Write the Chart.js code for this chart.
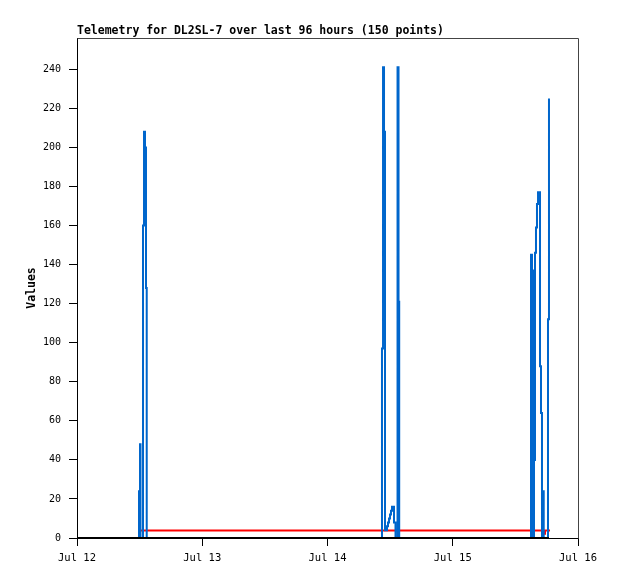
<!DOCTYPE html>
<html>
<head>
<meta charset="utf-8">
<script src="https://cdn.jsdelivr.net/npm/chart.js@4.4.1/dist/chart.umd.min.js"></script>
<style>
html,body{margin:0;padding:0;background:#fff;}
#c{display:block;}
</style>
</head>
<body>
<canvas id="c" width="618" height="579"></canvas>
<script>
// Hours since Jul 12 00:00
const xTickHours = [0, 24, 48, 72, 96];
const xTickLabels = ["Jul 12", "Jul 13", "Jul 14", "Jul 15", "Jul 16"];

const blueHours = [11.69, 11.88, 12.07, 12.17, 12.65, 12.84, 13.03, 13.22, 13.36,
  58.44, 58.64, 58.83, 59.02, 59.40, 59.59, 59.79, 59.98, 60.17, 60.36, 60.74, 61.03, 61.42, 61.61, 61.74,
  86.99, 87.19, 87.38, 87.57, 87.76, 87.95, 88.14, 88.34, 88.72, 88.91, 89.10, 89.29, 89.43, 90.25, 90.44];
const blueValues = [0, 24, 48, 0, 160, 208, 200, 128, 0,
  97, 241, 208, 4, 6, 8, 10, 12, 14, 16, 8, 0, 241, 121, 0,
  145, 137, 0, 40, 146, 159, 171, 177, 88, 64, 0, 24, 0, 112, 225];

const redHours = [12.26, 89.29, 89.68, 90.63];
const redValues = [3.8, 2.2, 3.8, 3.8];

const blackHours = [0, 90.44];
const blackValues = [0, 0];

const yTickStep = 20;
const yMax = 256;

function pts(xs, ys) { return xs.map((x, i) => ({ x: x, y: ys[i] })); }

const frame = {
  id: 'frame',
  beforeDatasetsDraw(chart) {
    const a = chart.chartArea, ctx = chart.ctx;
    ctx.save();
    ctx.strokeStyle = '#444444';
    ctx.lineWidth = 1;
    ctx.beginPath();
    ctx.moveTo(Math.round(a.left) + 0.5, Math.round(a.top) + 0.5);
    ctx.lineTo(Math.round(a.right) + 0.5, Math.round(a.top) + 0.5);
    ctx.lineTo(Math.round(a.right) + 0.5, Math.round(a.bottom) + 0.5);
    ctx.stroke();
    ctx.restore();
  }
};

const mono = "'DejaVu Sans Mono', 'Liberation Mono', monospace";
const lineStyle = { stepped: true, tension: 0, borderJoinStyle: 'miter', borderCapStyle: 'butt', pointRadius: 0, fill: false, borderWidth: 2 };

new Chart(document.getElementById('c'), {
  type: 'line',
  data: {
    datasets: [
      Object.assign({ label: 'black', data: pts(blackHours, blackValues), borderColor: '#000000', order: 0 }, lineStyle),
      Object.assign({ label: 'blue', data: pts(blueHours, blueValues), borderColor: '#0066cc', order: 1 }, lineStyle),
      Object.assign({ label: 'red', data: pts(redHours, redValues), borderColor: '#ff0000', order: 2 }, lineStyle)
    ]
  },
  options: {
    responsive: false,
    animation: false,
    devicePixelRatio: 1,
    events: [],
    elements: { point: { radius: 0 } },
    layout: { padding: { left: 0, right: 40, top: 0, bottom: 0 } },
    plugins: {
      legend: { display: false },
      tooltip: { enabled: false },
      title: {
        display: true,
        text: 'Telemetry for DL2SL-7 over last 96 hours (150 points)',
        align: 'start',
        fullSize: false,
        color: '#000',
        font: { family: mono, size: 11.5, weight: 'bold' },
        padding: { top: 24.2, bottom: 0 }
      }
    },
    scales: {
      x: {
        type: 'linear',
        min: 0,
        max: 96,
        afterBuildTicks: s => { s.ticks = xTickHours.map(v => ({ value: v })); },
        afterFit: s => { s.height = 41; },
        ticks: {
          autoSkip: false,
          maxRotation: 0,
          padding: 6,
          color: '#000',
          font: { family: mono, size: 10.5 },
          callback: (v) => { const i = xTickHours.indexOf(v); return i >= 0 ? xTickLabels[i] : ''; }
        },
        grid: { display: true, drawOnChartArea: false, drawTicks: true, tickLength: 8, color: '#000', tickColor: '#000' },
        border: { display: true, color: '#000', width: 1 }
      },
      y: {
        type: 'linear',
        min: 0,
        max: yMax,
        afterBuildTicks: s => { s.ticks = s.ticks.filter(t => t.value % yTickStep === 0); },
        afterFit: s => { s.width = 77; },
        ticks: {
          stepSize: yTickStep,
          padding: 8,
          color: '#000',
          font: { family: mono, size: 10 }
        },
        grid: { display: true, drawOnChartArea: false, drawTicks: true, tickLength: 8, color: '#000', tickColor: '#000' },
        border: { display: true, color: '#000', width: 1 },
        title: {
          display: true,
          text: 'Values',
          color: '#000',
          font: { family: mono, size: 11.5, weight: 'bold' },
          padding: { top: 25, bottom: 0 }
        }
      }
    }
  },
  plugins: [frame]
});
</script>
</body>
</html>
